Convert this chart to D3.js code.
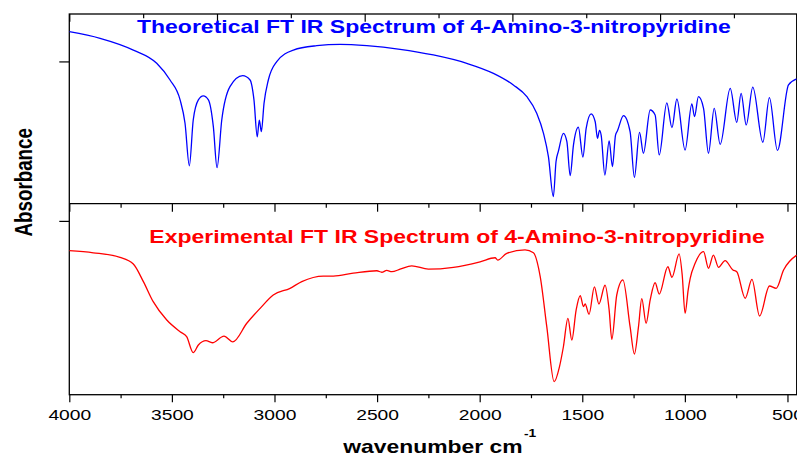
<!DOCTYPE html>
<html lang="en">
<head>
<meta charset="utf-8">
<title>FT IR Spectrum of 4-Amino-3-nitropyridine</title>
<script src="https://d3js.org/d3.v7.min.js"></script>
<style>
  body { margin: 0; background: #fff; }
  svg { display: block; font-family: "Liberation Sans", Arial, sans-serif; }
  .tick line { stroke: #000; stroke-width: 1.2; }
</style>
</head>
<body>
<script>
// Theoretical spectrum (blue), wavenumber in cm-1 and relative value (% of panel)
var theoWn = [4000, 3850, 3688, 3574, 3509, 3460, 3436, 3415, 3396, 3371, 3347, 3322, 3298, 3280, 3257, 3217, 3155, 3119, 3100, 3084, 3074, 3064, 3051, 3030, 2989, 2908, 2794, 2680, 2550, 2388, 2226, 2063, 1933, 1836, 1770, 1722, 1689, 1665, 1641,
  1628, 1616, 1592, 1575, 1559, 1543, 1519, 1497, 1481, 1457, 1437, 1426, 1416, 1408, 1390, 1369, 1353, 1338, 1329, 1299, 1267, 1246, 1221, 1202, 1169, 1145, 1125, 1088, 1063, 1039, 999, 966, 953, 934, 909, 885, 857, 828, 779, 747, 726, 701, 669, 620, 588, 549, 495, 455];
var theoVal = [90.7, 87.2, 81.0, 74.0, 65.2, 54.7, 42.4, 20.0, 44.1, 54.7, 56.8, 54.7, 40.6, 19.0, 44.1, 61.7, 67.5, 65.2, 54.7, 35.3, 44.1, 38.0, 52.9, 65.2, 74.9, 81.0, 83.3, 84.0, 83.3, 81.4, 78.4, 74.0, 68.7, 62.6, 56.4, 47.7, 37.1, 24.8, 3.8,
  22.1, 27.8, 37.1, 32.7, 14.8, 30.9, 40.3, 24.6, 39.7, 47.4, 43.2, 34.5, 38.7, 36.2, 15.1, 33.1, 19.5, 36.2, 38.3, 46.4, 38.0, 13.9, 37.6, 26.6, 49.4, 46.8, 25.7, 53.2, 40.1, 55.2, 28.3, 52.6, 45.9, 56.4, 50.3, 26.6, 50.3, 31.3, 60.8, 42.9, 58.2, 41.5, 61.5, 32.4, 55.9, 28.1, 62.6, 65.8];

// Experimental spectrum (red)
var exptWn = [4000, 3883, 3753, 3688, 3639, 3591, 3525, 3460, 3428, 3396, 3371, 3334, 3303, 3246, 3203, 3135, 3070, 3006, 2924, 2867, 2762, 2713, 2616, 2501, 2477, 2453, 2428, 2388, 2331, 2250, 2128, 1998, 1925, 1912, 1868, 1779, 1738, 1705, 1673, 1637,
  1611, 1592, 1570, 1551, 1530, 1510, 1494, 1486, 1467, 1441, 1419, 1389, 1369, 1356, 1332, 1302, 1267, 1246, 1226, 1210, 1189, 1169, 1145, 1125, 1083, 1063, 1028, 1013, 999, 984, 974, 950, 909, 885, 861, 836, 804, 766, 747, 706, 673, 636, 588, 555, 519, 455];
var exptVal = [75.4, 74.3, 71.9, 68.4, 59.2, 48.7, 39.1, 33.0, 30.4, 22.0, 26.0, 28.3, 27.2, 30.7, 27.7, 37.4, 45.2, 52.2, 55.7, 59.2, 62.1, 62.1, 63.6, 64.9, 64.1, 65.1, 64.4, 65.7, 67.5, 65.7, 66.7, 69.6, 71.7, 70.5, 74.0, 75.8, 74.3, 61.8, 35.6, 6.8,
  14.7, 25.1, 40.0, 28.6, 44.3, 51.8, 46.1, 47.5, 42.1, 56.5, 47.5, 57.3, 44.3, 29.0, 52.2, 60.1, 35.6, 21.3, 35.6, 50.3, 37.4, 49.6, 58.6, 52.7, 67.0, 61.5, 73.7, 62.7, 42.6, 54.8, 60.9, 68.8, 74.9, 66.2, 73.1, 66.7, 70.2, 65.3, 64.4, 50.5, 60.4, 41.2, 56.9, 55.7, 65.3, 73.1];

// axes
var xMajorTicks = [4000, 3500, 3000, 2500, 2000, 1500, 1000, 500];
var xMinorTicks = [3750, 3250, 2750, 2250, 1750, 1250, 750];
var topMajorTicks = [4000, 3200, 2400, 1600, 800];
var topMinorTicks = [3600, 2800, 2000, 1200, 400];
var theoYTicks = [75];
var exptYTicks = [91];

var theoTitle = "Theoretical FT IR Spectrum of 4-Amino-3-nitropyridine";
var exptTitle = "Experimental FT IR Spectrum of 4-Amino-3-nitropyridine";

var w = 797, h = 455;
var pLeft = 69.3, pRight = 796.7, pTop = 14, pMid = 203.7, pBottom = 394.7;
var sx = 1.25; // the original picture is stretched sideways

var x = d3.scaleLinear().domain([4000, 455]).range([pLeft, pRight]);
var xTop = d3.scaleLinear().domain([4000, 60]).range([pLeft, pRight]);
var yTheo = d3.scaleLinear().domain([0, 100]).range([pMid, pTop]);
var yExpt = d3.scaleLinear().domain([0, 100]).range([pBottom, pMid]);

var svg = d3.select("body").append("svg")
  .attr("width", w)
  .attr("height", h);

svg.append("clipPath").attr("id", "clip")
  .append("rect")
  .attr("x", pLeft).attr("y", pTop)
  .attr("width", pRight - pLeft).attr("height", pBottom - pTop);

// tick helper: draws an axis and removes the domain line
function ticks(axis, tx, ty) {
  var g = svg.append("g").attr("transform", "translate(" + tx + "," + ty + ")").call(axis);
  g.select(".domain").remove();
  return g;
}

// bottom axis with labels
var bx = ticks(d3.axisBottom(x).tickValues(xMajorTicks).tickSize(7.5).tickPadding(7).tickFormat(d3.format("d")), 0, pBottom);
bx.selectAll("text")
  .attr("fill", "#000")
  .attr("font-size", 15.4)
  .attr("font-family", "'Liberation Sans', Arial, sans-serif")
  .attr("transform", "scale(" + sx + ",1)");
ticks(d3.axisBottom(x).tickValues(xMinorTicks).tickSize(3.5).tickFormat(""), 0, pBottom);

// divider ticks (bottom of theoretical panel)
ticks(d3.axisBottom(x).tickValues(xMajorTicks).tickSize(8).tickFormat(""), 0, pMid);
ticks(d3.axisBottom(x).tickValues(xMinorTicks).tickSize(4).tickFormat(""), 0, pMid);

// top border ticks
ticks(d3.axisBottom(xTop).tickValues(topMajorTicks).tickSize(7.7).tickFormat(""), 0, pTop);
ticks(d3.axisBottom(xTop).tickValues(topMinorTicks).tickSize(4.3).tickFormat(""), 0, pTop);

// left ticks
ticks(d3.axisLeft(yTheo).tickValues(theoYTicks).tickSize(10).tickFormat(""), pLeft, 0);
ticks(d3.axisLeft(yExpt).tickValues(exptYTicks).tickSize(10).tickFormat(""), pLeft, 0);

// frames
svg.append("rect")
  .attr("x", pLeft).attr("y", pTop)
  .attr("width", pRight - pLeft).attr("height", pBottom - pTop)
  .attr("fill", "none").attr("stroke", "#000").attr("stroke-width", 1.3);
svg.append("line")
  .attr("x1", pLeft).attr("x2", pRight)
  .attr("y1", pMid).attr("y2", pMid)
  .attr("stroke", "#000").attr("stroke-width", 1.3);

// spectra
var theoLine = d3.line()
  .x(function(d, i) { return x(theoWn[i]); })
  .y(function(d) { return yTheo(d); })
  .curve(d3.curveMonotoneX);
var exptLine = d3.line()
  .x(function(d, i) { return x(exptWn[i]); })
  .y(function(d) { return yExpt(d); })
  .curve(d3.curveMonotoneX);

svg.append("path")
  .attr("clip-path", "url(#clip)")
  .attr("d", theoLine(theoVal))
  .attr("fill", "none").attr("stroke", "#0000ff").attr("stroke-width", 1.3);
svg.append("path")
  .attr("clip-path", "url(#clip)")
  .attr("d", exptLine(exptVal))
  .attr("fill", "none").attr("stroke", "#ff0000").attr("stroke-width", 1.3);

// stretched text helper
function label(str, tx, ty, size, color, extra) {
  return svg.append("text")
    .attr("transform", "translate(" + tx + "," + ty + ") scale(" + sx + ",1)" + (extra || ""))
    .attr("font-size", size)
    .attr("font-weight", "bold")
    .attr("fill", color)
    .text(str);
}

label(theoTitle, 137, 33.3, 18.4, "#0000ff");
label(exptTitle, 149.3, 243.3, 18.4, "#ff0000");

label("Absorbance", 32.3, 182.3, 18.8, "#000", " rotate(-90)")
  .attr("text-anchor", "middle");

label("wavenumber cm", 343.3, 453, 18.3, "#000");
label("-1", 524, 437, 11, "#000");
</script>
</body>
</html>
